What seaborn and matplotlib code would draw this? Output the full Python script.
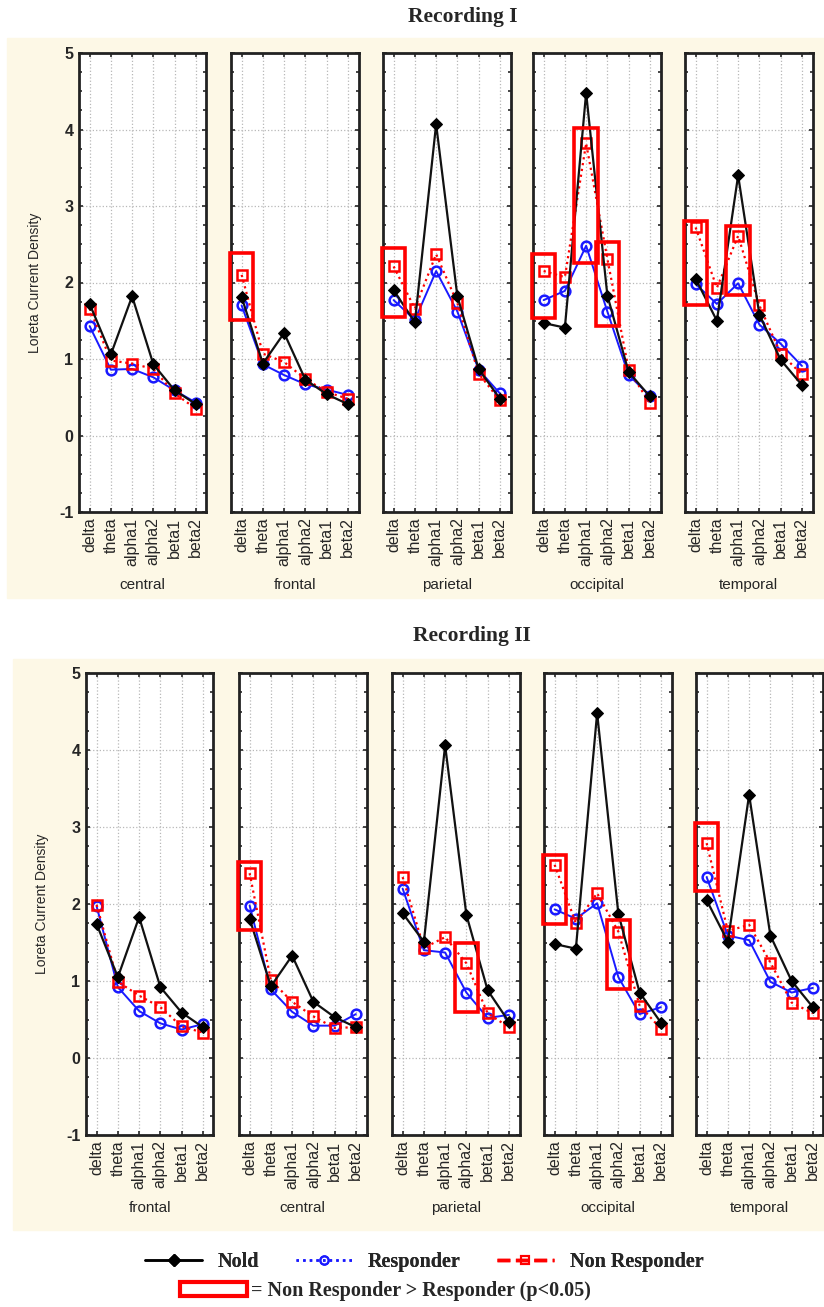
import seaborn as sns
import matplotlib.pyplot as plt
import pandas as pd
from matplotlib.patches import Rectangle, Patch
from matplotlib.lines import Line2D
from matplotlib.ticker import MultipleLocator

sns.set_style("ticks")
plt.rcParams['font.family'] = ['Liberation Sans', 'DejaVu Sans']

# %% data
bands = ['delta', 'theta', 'alpha1', 'alpha2', 'beta1', 'beta2']

rec1_regions = ['central', 'frontal', 'parietal', 'occipital', 'temporal']
rec1_nold = [[1.72, 1.06, 1.82, 0.93, 0.59, 0.41],
             [1.81, 0.94, 1.34, 0.73, 0.54, 0.41],
             [1.90, 1.48, 4.07, 1.82, 0.87, 0.48],
             [1.47, 1.41, 4.48, 1.83, 0.83, 0.51],
             [2.05, 1.50, 3.40, 1.58, 0.99, 0.66]]
rec1_resp = [[1.43, 0.86, 0.87, 0.76, 0.59, 0.43],
             [1.70, 0.93, 0.79, 0.67, 0.60, 0.53],
             [1.77, 1.51, 2.15, 1.62, 0.86, 0.55],
             [1.77, 1.89, 2.48, 1.62, 0.79, 0.52],
             [1.98, 1.72, 1.99, 1.45, 1.20, 0.91]]
rec1_nonresp = [[1.66, 0.98, 0.94, 0.87, 0.55, 0.35],
                [2.10, 1.07, 0.96, 0.74, 0.57, 0.48],
                [2.21, 1.66, 2.37, 1.73, 0.81, 0.46],
                [2.15, 2.07, 3.82, 2.31, 0.86, 0.42],
                [2.72, 1.93, 2.61, 1.70, 1.07, 0.80]]
# significant boxes: (region, band, low, high)
rec1_sig = [(1, 0, 1.51, 2.39), (2, 0, 1.55, 2.45),
            (3, 0, 1.54, 2.37), (3, 2, 2.25, 4.02), (3, 3, 1.43, 2.53),
            (4, 0, 1.70, 2.81), (4, 2, 1.84, 2.74)]

rec2_regions = ['frontal', 'central', 'parietal', 'occipital', 'temporal']
rec2_nold = [[1.74, 1.05, 1.83, 0.92, 0.59, 0.40],
             [1.81, 0.93, 1.33, 0.73, 0.53, 0.40],
             [1.88, 1.51, 4.06, 1.86, 0.88, 0.47],
             [1.48, 1.42, 4.48, 1.87, 0.85, 0.46],
             [2.05, 1.51, 3.42, 1.59, 1.00, 0.66]]
rec2_resp = [[1.97, 0.92, 0.61, 0.45, 0.37, 0.44],
             [1.98, 0.89, 0.60, 0.42, 0.42, 0.57],
             [2.20, 1.40, 1.37, 0.85, 0.52, 0.56],
             [1.93, 1.81, 2.01, 1.05, 0.57, 0.66],
             [2.35, 1.59, 1.53, 0.99, 0.85, 0.91]]
rec2_nonresp = [[1.99, 0.99, 0.81, 0.66, 0.41, 0.33],
                [2.40, 1.01, 0.73, 0.54, 0.39, 0.40],
                [2.35, 1.43, 1.57, 1.23, 0.58, 0.40],
                [2.51, 1.75, 2.14, 1.64, 0.68, 0.38],
                [2.79, 1.65, 1.73, 1.24, 0.72, 0.58]]
rec2_sig = [(1, 0, 1.66, 2.55), (2, 3, 0.60, 1.49),
            (3, 0, 1.74, 2.64), (3, 3, 0.89, 1.79),
            (4, 0, 2.17, 3.05)]

BLUE = '#1a1aff'
RED = '#ff0000'
BEIGE = '#fdf8e6'

fig = plt.figure(figsize=(8.24, 13.07), dpi=100)
H = 1307.0
W = 824.0

# beige blocks behind each recording
fig.patches.append(Rectangle((7 / W, 1 - 598 / H), 1, (598 - 38) / H,
                             transform=fig.transFigure, color=BEIGE, zorder=-5))
fig.patches.append(Rectangle((13 / W, 1 - 1230 / H), 1, (1230 - 659) / H,
                             transform=fig.transFigure, color=BEIGE, zorder=-5))


def draw_block(regions, nold, resp, nonresp, sig, lefts, top_px, bot_px):
    axes = []
    for i, reg in enumerate(regions):
        ax = fig.add_axes([lefts[i] / W, 1 - bot_px / H, 127.5 / W, (bot_px - top_px) / H])
        ax.set_facecolor('white')
        df = pd.DataFrame({'band': bands, 'Nold': nold[i], 'Responder': resp[i],
                           'Non Responder': nonresp[i]})
        sns.lineplot(data=df, x='band', y='Nold', ax=ax, sort=False, color='#111111',
                     lw=1.6, marker='D', markersize=6.5, mec='black', mfc='black', zorder=5)
        sns.lineplot(data=df, x='band', y='Responder', ax=ax, sort=False, color=BLUE,
                     lw=1.4, marker='o', markersize=7, mec=BLUE, mfc='none', mew=1.8, zorder=4)
        sns.lineplot(data=df, x='band', y='Non Responder', ax=ax, sort=False, color=RED,
                     lw=1.6, ls=':', marker='s', markersize=7, mec=RED, mfc='none', mew=1.8,
                     zorder=4)
        for (r, b, lo, hi) in sig:
            if r == i:
                ax.add_patch(Rectangle((b - 0.55, lo), 1.1, hi - lo, fill=False,
                                       ec=RED, lw=2.6, zorder=6, clip_on=False))
        ax.set_xlim(-0.5, 5.5)
        ax.set_ylim(-1, 5)
        ax.set_xticks(range(len(bands)))
        ax.set_xticklabels(bands, rotation=90, fontsize=11.5)
        ax.set_yticks([-1, 0, 1, 2, 3, 4, 5])
        ax.yaxis.set_minor_locator(MultipleLocator(0.25))
        ax.grid(True, which='major', ls=':', color='#b8b8b8', lw=0.9)
        ax.tick_params(which='both', direction='in', top=True, right=True, length=3,
                       width=1.2, pad=4)
        ax.tick_params(which='minor', length=2)
        ax.set_xlabel(reg, fontsize=11, labelpad=9)
        ax.set_ylabel('')
        for s in ax.spines.values():
            s.set_linewidth(2)
            s.set_color('#222222')
        if i == 0:
            ax.set_yticklabels(['-1', '0', '1', '2', '3', '4', '5'], fontsize=11.5,
                               fontweight='bold')
            ax.set_ylabel('Loreta Current Density', fontsize=10, labelpad=12)
        else:
            ax.set_yticklabels([])
        axes.append(ax)
    return axes


draw_block(rec1_regions, rec1_nold, rec1_resp, rec1_nonresp, rec1_sig,
           [79, 231, 383, 533, 685], 53, 512)
draw_block(rec2_regions, rec2_nold, rec2_resp, rec2_nonresp, rec2_sig,
           [86, 239, 392, 544, 696], 673, 1135)

serif = ['Liberation Serif', 'DejaVu Serif']
fig.text(463 / W, 1 - 17 / H, 'Recording I', ha='center', va='center',
         fontsize=15.5, fontweight='bold', family=serif)
fig.text(472 / W, 1 - 636 / H, 'Recording II', ha='center', va='center',
         fontsize=15.5, fontweight='bold', family=serif)

# legend
handles = [Line2D([], [], color='black', lw=1.8, marker='D', markersize=6),
           Line2D([], [], color=BLUE, lw=1.8, ls=':', marker='o', markersize=6,
                  mfc='none', mew=1.5),
           Line2D([], [], color=RED, lw=2.5, ls='--', marker='s', markersize=6,
                  mfc='none', mew=1.5)]
leg = fig.legend(handles, ['Nold', 'Responder', 'Non Responder'], ncol=3,
                 loc='center', bbox_to_anchor=(0.515, 1 - 1262 / H), frameon=False,
                 handlelength=2.8, columnspacing=1.8, handletextpad=0.8,
                 prop={'family': serif, 'weight': 'bold', 'size': 14.5})
fig.add_artist(leg)
leg2 = fig.legend([Patch(facecolor='white', edgecolor=RED, lw=3)],
                  ['= Non Responder > Responder (p<0.05)'], loc='center',
                  bbox_to_anchor=(0.468, 1 - 1291 / H), frameon=False,
                  handlelength=3.3, handleheight=0.75, handletextpad=0.2,
                  prop={'family': serif, 'weight': 'bold', 'size': 14.5})

fig.savefig('out.png', dpi=100)
